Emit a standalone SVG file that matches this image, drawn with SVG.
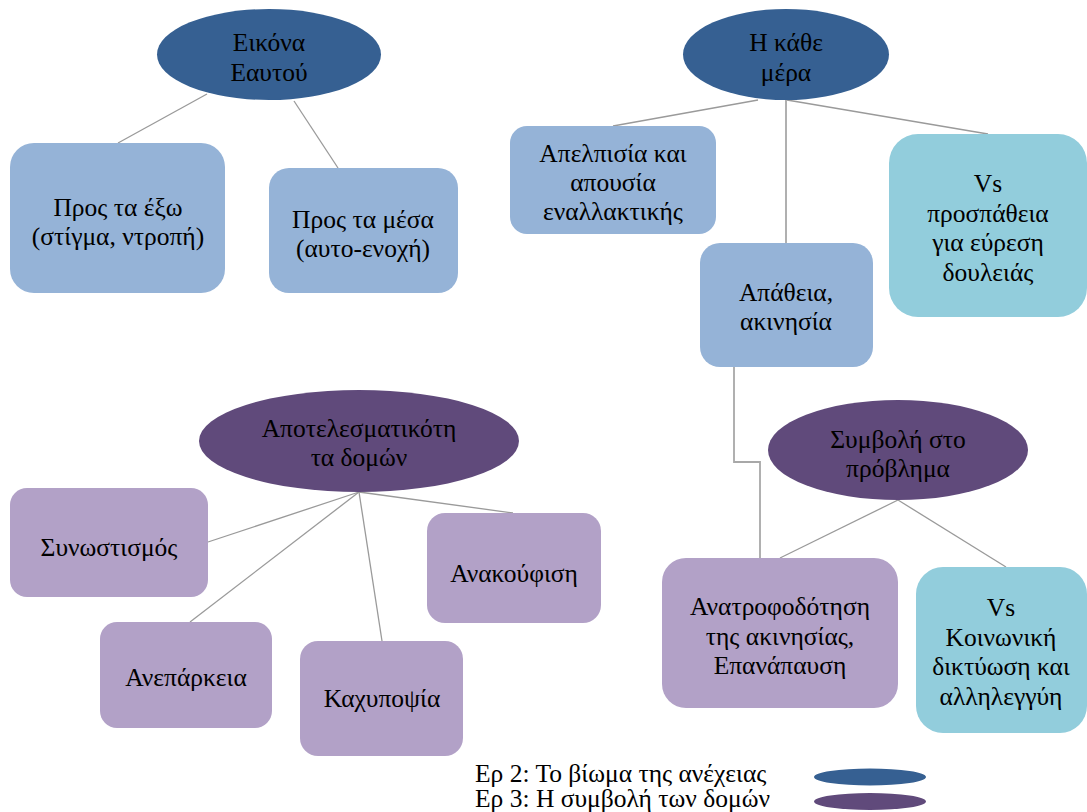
<svg xmlns="http://www.w3.org/2000/svg" width="1087" height="812" viewBox="0 0 1087 812">
<style>
text{font-family:"Liberation Serif","Times New Roman",serif;font-size:25.5px;fill:#000;text-anchor:middle}
.e2{fill:#366092}
.e3{fill:#604A7B}
.b1{fill:#95B3D7}
.b3{fill:#B2A1C7}
.bc{fill:#92CDDC}
.c{stroke:#9A9A9A;stroke-width:1.3;fill:none}
.c2{stroke:#A8A8A8;stroke-width:1.8;fill:none}
.lg{text-anchor:start}
</style>
<rect width="1087" height="812" fill="#fff"/>
<g id="connectors">
<line class="c" x1="207" y1="94" x2="118" y2="143"/>
<line class="c" x1="294" y1="101" x2="338" y2="168"/>
<line class="c" x1="758" y1="100" x2="613" y2="126"/>
<line class="c2" x1="786" y1="100" x2="786" y2="243"/>
<line class="c" x1="787" y1="100" x2="988" y2="134"/>
<polyline class="c2" points="734,367 734,462 760,462 760,558"/>
<line class="c" x1="898" y1="500" x2="780" y2="558"/>
<line class="c" x1="898" y1="500" x2="1006" y2="567"/>
<line class="c" x1="359" y1="492" x2="208" y2="542"/>
<line class="c" x1="359" y1="492" x2="190" y2="622"/>
<line class="c" x1="359" y1="492" x2="382" y2="641"/>
<line class="c" x1="359" y1="492" x2="513" y2="513"/>
</g>
<g id="n-eikona">
<ellipse class="e2" cx="269" cy="54.5" rx="112" ry="45.5"/>
<text x="269" y="51">Εικόνα</text>
<text x="269" y="81">Εαυτού</text>
</g>
<g id="n-exo">
<rect class="b1" x="10" y="143" width="215" height="150" rx="24"/>
<text x="118" y="216">Προς τα έξω</text>
<text x="118" y="245">(στίγμα, ντροπή)</text>
</g>
<g id="n-mesa">
<rect class="b1" x="269" y="168" width="189" height="125" rx="20"/>
<text x="363" y="228">Προς τα μέσα</text>
<text x="363" y="257">(αυτο-ενοχή)</text>
</g>
<g id="n-kathe">
<ellipse class="e2" cx="786" cy="54.5" rx="103" ry="45.5"/>
<text x="786" y="51">Η κάθε</text>
<text x="786" y="81">μέρα</text>
</g>
<g id="n-apelpisia">
<rect class="b1" x="510" y="126" width="206" height="108" rx="17"/>
<text x="613" y="162">Απελπισία και</text>
<text x="613" y="191">απουσία</text>
<text x="613" y="220">εναλλακτικής</text>
</g>
<g id="n-apatheia">
<rect class="b1" x="700" y="243" width="173" height="124" rx="20"/>
<text x="786" y="301">Απάθεια,</text>
<text x="786" y="330">ακινησία</text>
</g>
<g id="n-vs1">
<rect class="bc" x="889" y="134" width="198" height="183" rx="29"/>
<text x="988" y="192">Vs</text>
<text x="988" y="222">προσπάθεια</text>
<text x="988" y="251">για εύρεση</text>
<text x="988" y="281">δουλειάς</text>
</g>
<g id="n-apotel">
<ellipse class="e3" cx="359" cy="441" rx="160" ry="51"/>
<text x="359" y="437">Αποτελεσματικότη</text>
<text x="359" y="466">τα δομών</text>
</g>
<g id="n-synostismos">
<rect class="b3" x="10" y="488" width="198" height="109" rx="17"/>
<text x="109" y="556">Συνωστισμός</text>
</g>
<g id="n-anakoufisi">
<rect class="b3" x="427" y="513" width="174" height="110" rx="18"/>
<text x="514" y="582">Ανακούφιση</text>
</g>
<g id="n-aneparkeia">
<rect class="b3" x="100" y="622" width="172" height="106" rx="17"/>
<text x="186" y="686">Ανεπάρκεια</text>
</g>
<g id="n-kaxypopsia">
<rect class="b3" x="300" y="641" width="163" height="115" rx="18"/>
<text x="382" y="707">Καχυποψία</text>
</g>
<g id="n-symvoli">
<ellipse class="e3" cx="898" cy="450" rx="130" ry="50"/>
<text x="898" y="448">Συμβολή στο</text>
<text x="898" y="477">πρόβλημα</text>
</g>
<g id="n-anatrofodotisi">
<rect class="b3" x="662" y="558" width="236" height="150" rx="24"/>
<text x="780" y="615">Ανατροφοδότηση</text>
<text x="780" y="645">της ακινησίας,</text>
<text x="780" y="674">Επανάπαυση</text>
</g>
<g id="n-vs2">
<rect class="bc" x="916" y="567" width="171" height="166" rx="27"/>
<text x="1001" y="616">Vs</text>
<text x="1001" y="646">Κοινωνική</text>
<text x="1001" y="675">δικτύωση και</text>
<text x="1001" y="705">αλληλεγγύη</text>
</g>
<g id="legend">
<text class="lg" x="475" y="782">Ερ 2: Το βίωμα της ανέχειας</text>
<text class="lg" x="475" y="807">Ερ 3: Η συμβολή των δομών</text>
<ellipse class="e2" cx="870" cy="777" rx="56" ry="8.5"/>
<ellipse class="e3" cx="870" cy="801.5" rx="56" ry="8.5"/>
</g>
</svg>
